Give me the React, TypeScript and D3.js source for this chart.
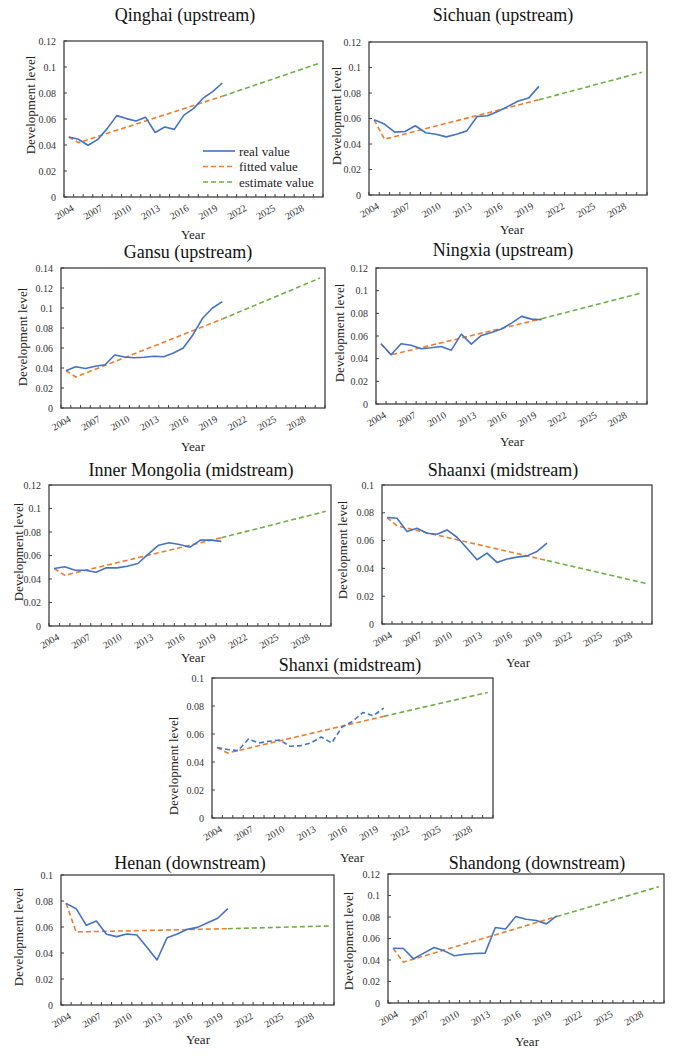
import React from "react";
import * as d3 from "d3";

// ---------- data ----------
const years = [
  2004, 2005, 2006, 2007, 2008, 2009, 2010, 2011, 2012, 2013, 2014, 2015, 2016,
  2017, 2018, 2019, 2020, 2021, 2022, 2023, 2024, 2025, 2026, 2027, 2028, 2029, 2030,
];
const realYears = [
  2004, 2005, 2006, 2007, 2008, 2009, 2010, 2011, 2012, 2013, 2014, 2015, 2016,
  2017, 2018, 2019, 2020,
];

const qinghaiReal = [0.0462, 0.0444, 0.0398, 0.0441, 0.0526, 0.0626, 0.0603, 0.0585, 0.0614, 0.0496, 0.0538, 0.052, 0.063, 0.068, 0.076, 0.081, 0.0877];
const qinghaiFitted: [number, number][] = [[2004, 0.0462], [2005, 0.0418], [2020, 0.0775]];
const qinghaiEstimate: [number, number][] = [[2020, 0.0775], [2030, 0.1026]];

const sichuanReal = [0.059, 0.0556, 0.0493, 0.0498, 0.0543, 0.0488, 0.0477, 0.0456, 0.0477, 0.0503, 0.0616, 0.0621, 0.0655, 0.0695, 0.0737, 0.076, 0.0852];
const sichuanFitted: [number, number][] = [[2004, 0.059], [2005, 0.0438], [2020, 0.0747]];
const sichuanEstimate: [number, number][] = [[2020, 0.0747], [2030, 0.0962]];

const gansuReal = [0.0373, 0.0413, 0.0395, 0.0417, 0.0433, 0.053, 0.051, 0.0503, 0.0507, 0.0517, 0.0512, 0.055, 0.06, 0.0733, 0.09, 0.1, 0.1063];
const gansuFitted: [number, number][] = [[2004, 0.0373], [2005, 0.031], [2020, 0.089]];
const gansuEstimate: [number, number][] = [[2020, 0.089], [2030, 0.13]];

const ningxiaReal = [0.0531, 0.0434, 0.0531, 0.0519, 0.0487, 0.0496, 0.0507, 0.0475, 0.0617, 0.0528, 0.0605, 0.0631, 0.0661, 0.0714, 0.0773, 0.0749, 0.0743];
const ningxiaFitted: [number, number][] = [[2004, 0.0531], [2005, 0.0434], [2020, 0.0752]];
const ningxiaEstimate: [number, number][] = [[2020, 0.0752], [2030, 0.098]];

const innerMongoliaReal = [0.0489, 0.0504, 0.0475, 0.0475, 0.0458, 0.0495, 0.0495, 0.0509, 0.0532, 0.0612, 0.0688, 0.0708, 0.0694, 0.0671, 0.0731, 0.0731, 0.072];
const innerMongoliaFitted: [number, number][] = [[2004, 0.0489], [2005, 0.0432], [2020, 0.0751]];
const innerMongoliaEstimate: [number, number][] = [[2020, 0.0751], [2030, 0.0976]];

const shaanxiReal = [0.0766, 0.0761, 0.0665, 0.0689, 0.0653, 0.0646, 0.0677, 0.0624, 0.0545, 0.0462, 0.051, 0.0443, 0.0467, 0.0481, 0.049, 0.0522, 0.0581];
const shaanxiFitted: [number, number][] = [[2004, 0.0766], [2005, 0.0706], [2020, 0.0457]];
const shaanxiEstimate: [number, number][] = [[2020, 0.0457], [2030, 0.029]];

const shanxiReal = [0.0504, 0.0489, 0.0481, 0.0564, 0.0536, 0.0548, 0.0557, 0.0512, 0.0517, 0.0536, 0.0579, 0.0536, 0.065, 0.069, 0.0754, 0.073, 0.0785];
const shanxiFitted: [number, number][] = [[2004, 0.0504], [2005, 0.0464], [2020, 0.0726]];
const shanxiEstimate: [number, number][] = [[2020, 0.0726], [2030, 0.0897]];

const henanReal = [0.0782, 0.0741, 0.0613, 0.0646, 0.0544, 0.0526, 0.0546, 0.0538, 0.0445, 0.0346, 0.0518, 0.0546, 0.0582, 0.0597, 0.0633, 0.0667, 0.0741];
const henanFitted: [number, number][] = [[2004, 0.0782], [2005, 0.0562], [2020, 0.0587]];
const henanEstimate: [number, number][] = [[2020, 0.0587], [2030, 0.0608]];

const shandongReal = [0.051, 0.0507, 0.0411, 0.0464, 0.0516, 0.0485, 0.0439, 0.0454, 0.0461, 0.0464, 0.0702, 0.0689, 0.0804, 0.0779, 0.0767, 0.0736, 0.081];
const shandongFitted: [number, number][] = [[2004, 0.051], [2005, 0.038], [2020, 0.0804]];
const shandongEstimate: [number, number][] = [[2020, 0.0804], [2030, 0.1082]];

const legendLabels = ["real value", "fitted value", "estimate value"];
const yAxisTitle = "Development level";
const xAxisTitle = "Year";

// ---------- style ----------
const FONT = '"Liberation Serif", "Times New Roman", serif';
const BLUE = "#4472C4";
const ORANGE = "#ED7D31";
const GREEN = "#70AD47";
const FRAME = "#3f3f3f";

type Pt = [number, number];
interface PanelCfg {
  title: string;
  titleX: number;
  titleY: number;
  L: number; T: number; R: number; B: number;
  yMax: number;
  ylabX: number; ylabY: number;
  yearX: number; yearY: number;
  real: number[];
  fitted: Pt[];
  estimate: Pt[];
  realDashed?: boolean;
  legend?: boolean;
}

const panels: PanelCfg[] = [
  { title: "Qinghai (upstream)", titleX: 185, titleY: 21, L: 64, T: 41, R: 323, B: 197, yMax: 0.12, ylabX: 30, ylabY: 105, yearX: 193, yearY: 239, real: qinghaiReal, fitted: qinghaiFitted, estimate: qinghaiEstimate, legend: true },
  { title: "Sichuan (upstream)", titleX: 503, titleY: 21, L: 369, T: 42, R: 647, B: 195, yMax: 0.12, ylabX: 336, ylabY: 116, yearX: 512, yearY: 234, real: sichuanReal, fitted: sichuanFitted, estimate: sichuanEstimate },
  { title: "Gansu (upstream)", titleX: 188, titleY: 258, L: 61, T: 268, R: 325, B: 408, yMax: 0.14, ylabX: 22, ylabY: 337, yearX: 193, yearY: 451, real: gansuReal, fitted: gansuFitted, estimate: gansuEstimate },
  { title: "Ningxia (upstream)", titleX: 503, titleY: 256, L: 376, T: 268, R: 647, B: 404, yMax: 0.12, ylabX: 339, ylabY: 333, yearX: 512, yearY: 446, real: ningxiaReal, fitted: ningxiaFitted, estimate: ningxiaEstimate },
  { title: "Inner Mongolia (midstream)", titleX: 191, titleY: 476, L: 49, T: 485, R: 331, B: 626, yMax: 0.12, ylabX: 18, ylabY: 552, yearX: 193, yearY: 662, real: innerMongoliaReal, fitted: innerMongoliaFitted, estimate: innerMongoliaEstimate },
  { title: "Shaanxi (midstream)", titleX: 503, titleY: 476, L: 382, T: 485, R: 652, B: 624, yMax: 0.1, ylabX: 342, ylabY: 550, yearX: 518, yearY: 667, real: shaanxiReal, fitted: shaanxiFitted, estimate: shaanxiEstimate },
  { title: "Shanxi (midstream)", titleX: 350, titleY: 671, L: 212, T: 678, R: 493, B: 818, yMax: 0.1, ylabX: 173, ylabY: 766, yearX: 352, yearY: 862, real: shanxiReal, fitted: shanxiFitted, estimate: shanxiEstimate, realDashed: true },
  { title: "Henan (downstream)", titleX: 190, titleY: 869, L: 61, T: 875, R: 334, B: 1005, yMax: 0.1, ylabX: 18, ylabY: 937, yearX: 198, yearY: 1044, real: henanReal, fitted: henanFitted, estimate: henanEstimate },
  { title: "Shandong (downstream)", titleX: 537, titleY: 869, L: 388, T: 874, R: 664, B: 1003, yMax: 0.12, ylabX: 348, ylabY: 941, yearX: 527, yearY: 1046, real: shandongReal, fitted: shandongFitted, estimate: shandongEstimate },
];

const fmt = (v: number) => (v === 0 ? "0" : String(+v.toFixed(2)));

function Panel({ p }: { p: PanelCfg }) {
  const x = d3.scaleBand<number>().domain(years).range([p.L, p.R]).padding(0);
  const bw = x.bandwidth();
  const cx = (yr: number) => (x(yr) as number) + bw / 2;
  const y = d3.scaleLinear().domain([0, p.yMax]).range([p.B, p.T]);
  const yTicks = d3.range(0, p.yMax + 1e-9, 0.02);
  const line = d3.line<Pt>().x((d) => cx(d[0])).y((d) => y(d[1]));
  const realPts: Pt[] = realYears.map((yr, i) => [yr, p.real[i]]);
  const boundaries = years.map((yr) => x(yr) as number).concat([p.R]);

  return (
    <g>
      <text x={p.titleX} y={p.titleY} textAnchor="middle" fontSize={18} fill="#111">
        {p.title}
      </text>
      {/* frame */}
      <rect x={p.L} y={p.T} width={p.R - p.L} height={p.B - p.T} fill="none" stroke={FRAME} strokeWidth={1.3} />
      {/* y ticks */}
      {yTicks.map((t) => (
        <g key={t}>
          <line x1={p.L} x2={p.L + 3} y1={y(t)} y2={y(t)} stroke={FRAME} strokeWidth={1} />
          <text x={p.L - 8} y={y(t)} dy="0.35em" textAnchor="end" fontSize={10} fill="#333">
            {fmt(t)}
          </text>
        </g>
      ))}
      {/* x ticks */}
      {boundaries.map((bx, i) => (
        <line key={i} x1={bx} x2={bx} y1={p.B} y2={p.B - 3} stroke={FRAME} strokeWidth={1} />
      ))}
      {years.map((yr, i) =>
        i % 3 === 0 ? (
          <text
            key={yr}
            transform={`translate(${cx(yr) + 4},${p.B + 10}) rotate(-30)`}
            dy="0.35em"
            textAnchor="end"
            fontSize={10}
            fill="#333"
          >
            {yr}
          </text>
        ) : null
      )}
      {/* axis titles */}
      <text
        transform={`translate(${p.ylabX},${p.ylabY}) rotate(-90)`}
        dy="0.35em"
        textAnchor="middle"
        fontSize={13}
        fill="#222"
      >
        {yAxisTitle}
      </text>
      <text x={p.yearX} y={p.yearY} textAnchor="middle" fontSize={13} fill="#222">
        {xAxisTitle}
      </text>
      {/* series */}
      <path d={line(p.estimate) || ""} fill="none" stroke={GREEN} strokeWidth={1.6} strokeDasharray="5,3" />
      <path d={line(p.fitted) || ""} fill="none" stroke={ORANGE} strokeWidth={1.6} strokeDasharray="5,3" />
      <path
        d={line(realPts) || ""}
        fill="none"
        stroke={BLUE}
        strokeWidth={1.6}
        strokeDasharray={p.realDashed ? "5,3" : undefined}
        strokeLinejoin="round"
      />
      {p.legend ? (
        <g>
          {[BLUE, ORANGE, GREEN].map((c, i) => (
            <g key={c}>
              <line
                x1={203}
                x2={235}
                y1={151 + i * 15.5}
                y2={151 + i * 15.5}
                stroke={c}
                strokeWidth={1.6}
                strokeDasharray={i === 0 ? undefined : "5,3"}
              />
              <text x={239} y={151 + i * 15.5} dy="0.35em" fontSize={13} fill="#222">
                {legendLabels[i]}
              </text>
            </g>
          ))}
        </g>
      ) : null}
    </g>
  );
}

export default function App() {
  return (
    <svg
      width={685}
      height={1058}
      viewBox="0 0 685 1058"
      style={{ position: "absolute", left: 0, top: 0, background: "#fff", fontFamily: FONT }}
    >
      <rect width={685} height={1058} fill="#fff" />
      {panels.map((p) => (
        <Panel key={p.title} p={p} />
      ))}
    </svg>
  );
}
